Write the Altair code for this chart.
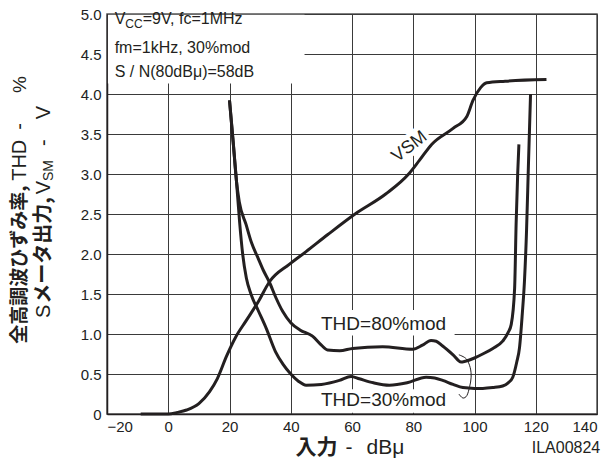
import altair as alt
import pandas as pd

# ---------------- data ----------------
vsm_x = [-9, 0, 3, 6, 10, 13.5, 16, 19, 22, 25.5, 29.5, 33, 39.5, 45, 52, 61, 71, 78.5, 82, 86, 93, 97.5, 99.5, 102, 104, 110, 123.5]
vsm_y = [0, 0, 0.02, 0.05, 0.13, 0.28, 0.44, 0.72, 0.96, 1.17, 1.41, 1.65, 1.87, 2.03, 2.24, 2.5, 2.75, 3.0, 3.17, 3.37, 3.57, 3.72, 3.92, 4.08, 4.14, 4.16, 4.18]

thd30_x = [20, 21.2, 22.3, 23.3, 24.3, 25.5, 27, 29.3, 32, 35, 37.5, 40, 42.5, 45, 50, 55.9, 59.7, 62.4, 67, 72.2, 78, 84.2, 87, 89.6, 93, 96.2, 100, 102.7, 106, 109.2, 111, 112.5, 113.8, 114.7, 115.6, 116.3, 117, 117.6, 118.3]
thd30_y = [3.92, 3.4, 2.9, 2.4, 2.0, 1.7, 1.5, 1.3, 1.07, 0.78, 0.62, 0.5, 0.41, 0.36, 0.37, 0.42, 0.47, 0.44, 0.39, 0.36, 0.39, 0.46, 0.45, 0.42, 0.37, 0.33, 0.32, 0.32, 0.33, 0.35, 0.39, 0.46, 0.65, 0.83, 1.25, 1.65, 2.3, 3.1, 4.0]

thd80_x = [20, 21.2, 22.3, 23.2, 25.4, 27.2, 29.2, 31, 33, 35.2, 37.4, 40, 43, 47.2, 50, 52, 56, 60.2, 70, 79.8, 83, 85.8, 87.5, 89.6, 93, 95.6, 97, 100, 102.7, 106, 109.2, 111, 112, 113.1, 113.6, 114.1, 114.5]
thd80_y = [3.92, 3.4, 2.9, 2.65, 2.37, 2.14, 1.96, 1.8, 1.65, 1.45, 1.28, 1.14, 1.05, 0.97, 0.86, 0.8, 0.79, 0.82, 0.84, 0.81, 0.86, 0.92, 0.91, 0.85, 0.74, 0.65, 0.66, 0.7, 0.75, 0.82, 0.91, 1.02, 1.12, 1.57, 2.39, 3.0, 3.37]

loop_x = [94.9, 97.3, 98.6, 98.9, 98.4, 97.5, 96.2, 94.9]
loop_y = [0.74, 0.69, 0.58, 0.46, 0.34, 0.23, 0.20, 0.25]

x_ticks = [-20, 0, 20, 40, 60, 80, 100, 120, 140]
y_ticks = [0, 0.5, 1.0, 1.5, 2.0, 2.5, 3.0, 3.5, 4.0, 4.5, 5.0]

label_text = ["THD=80%mod", "THD=30%mod"]
label_x = [70.3, 70.3]
label_y = [1.13, 0.17]

# white boxes behind in-plot texts (data units)
box_x = [-19.7, 47, 47]
box_x2 = [44.5, 93.5, 93.5]
box_y = [4.13, 0.98, 0.015]
box_y2 = [4.99, 1.3, 0.31]

FONT = "Liberation Sans"
CJK = "Noto Sans CJK JP"
INK = "#231f20"

ARIAL = {' ': 278, '-': 333, '%': 889, 'T': 611, 'H': 722, 'D': 722, 'V': 667,
         'S': 667, 'M': 833, 'C': 722, '=': 584, '9': 556, ',': 278, 'f': 278, 'c': 500,
         '1': 556, 'z': 500, 'm': 833, 'k': 500, '3': 556, '0': 556, 'o': 556, 'd': 556,
         '/': 278, 'N': 722, '(': 333, ')': 333, '8': 556, 'B': 667, 'μ': 576, '5': 556}


def width(s, size, cjk=False):
    w = 0
    for ch in s:
        if ch in ARIAL:
            w += ARIAL[ch] * (0.95 if cjk else 1.0)
        else:
            w += 1000
    return w * size / 1000.0


X = alt.X("x:Q", scale=alt.Scale(domain=[-20, 140], nice=False, zero=False),
          axis=alt.Axis(values=x_ticks, tickCount=len(x_ticks), title=None, grid=True, ticks=False,
                        labelOverlap=False,
                        labelExpr="datum.value < 0 ? '\u2212' + abs(datum.value) : datum.value"))
Y = alt.Y("y:Q", scale=alt.Scale(domain=[0, 5], nice=False, zero=False),
          axis=alt.Axis(values=y_ticks, tickCount=len(y_ticks), title=None, grid=True, ticks=False,
                        labelOverlap=False,
                        labelExpr="datum.value == 0 ? '0' : format(datum.value, '.1f')"))

boxes = alt.Chart(pd.DataFrame({"x": box_x, "x2": box_x2, "y": box_y, "y2": box_y2})).mark_rect(
    color="white").encode(x=X, x2="x2:Q", y=Y, y2="y2:Q")

rows = []
for name, xs, ys in [("VSM", vsm_x, vsm_y), ("THD30", thd30_x, thd30_y), ("THD80", thd80_x, thd80_y)]:
    for i, (a, b) in enumerate(zip(xs, ys)):
        rows.append({"series": name, "i": i, "x": a, "y": b})
curves = alt.Chart(pd.DataFrame(rows)).mark_line(
    color=INK, strokeWidth=3, interpolate="monotone", strokeJoin="round", strokeCap="butt"
).encode(x="x:Q", y="y:Q", detail="series:N", order="i:Q")

loop = alt.Chart(pd.DataFrame({"x": loop_x, "y": loop_y, "i": list(range(len(loop_x)))})).mark_line(
    color=INK, strokeWidth=1, interpolate="cardinal"
).encode(x="x:Q", y="y:Q", order="i:Q")

thd_labels = alt.Chart(pd.DataFrame({"x": label_x, "y": label_y, "t": label_text})).mark_text(
    font=FONT, fontSize=19, color=INK, align="center", baseline="middle"
).encode(x="x:Q", y="y:Q", text="t:N")

vsm_df = pd.DataFrame({"x": [78.8], "y": [3.34], "t": ["VSM"]})
vsm_halo = alt.Chart(vsm_df).mark_text(font=FONT, fontSize=18, angle=322, color="white",
                                        stroke="white", strokeWidth=9, align="center",
                                        baseline="middle").encode(x="x:Q", y="y:Q", text="t:N")
vsm_lab = alt.Chart(vsm_df).mark_text(font=FONT, fontSize=18, angle=322, color=INK,
                                       align="center", baseline="middle").encode(x="x:Q", y="y:Q", text="t:N")

one = pd.DataFrame({"a": [0]})
layers = [boxes, curves, loop, thd_labels, vsm_halo, vsm_lab]

# top-left condition text (data-anchored, pieces offset by pixel widths)
tx = -17.5
cond = [
    (4.94, [("V", 16, 0, 0), ("CC", 12, 5, 0), ("=9V, fc=1MHz", 16, 0, 0)]),
    (4.58, [("fm=1kHz, 30%mod", 16, 0, 0)]),
    (4.28, [("S / N(80dBμ)=58dB", 16, 0, 0)]),
]
for yv, pieces in cond:
    dx = 0
    for s, size, dy, gap in pieces:
        layers.append(alt.Chart(pd.DataFrame({"x": [tx], "y": [yv]})).mark_text(
            text=s, font=FONT, fontSize=size, color=INK, align="left", baseline="middle",
            dx=dx, dy=dy).encode(x="x:Q", y="y:Q"))
        dx += width(s, size) + gap


def piece_run(pieces, xpix, ypix, angle):
    """pieces: (text, size, cjk, bold, dy, gap_after_px); centred on (xpix, ypix)."""
    total = sum(width(p[0], p[1], p[2]) + p[5] for p in pieces) - pieces[-1][5]
    dx = -total / 2
    out = []
    for s, size, cjk, bold, dy, gap in pieces:
        kw = dict(text=s, font=CJK if cjk else FONT, fontSize=size,
                  fontWeight="bold" if bold else "normal", color=INK,
                  align="left", baseline="middle", dx=dx, dy=dy)
        if angle:
            kw["angle"] = angle
        out.append(alt.Chart(one).mark_text(**kw).encode(x=alt.value(xpix), y=alt.value(ypix)))
        dx += width(s, size, cjk) + gap
    return out


# plot origin on the page is (107, 14)
layers += piece_run([("全高調波ひずみ率,", 19, True, True, 0, 6),
                     ("THD", 20, False, False, 0, 10),
                     ("-", 20, False, False, 0, 30),
                     ("%", 19, False, False, 0, 0)], -87, 196, 270)
layers += piece_run([("S", 20, False, False, 0, 1),
                     ("メータ出力,", 20, True, True, 0, 4),
                     ("V", 20, False, False, 0, 0),
                     ("SM", 14, False, False, 5, 14),
                     ("-", 20, False, False, 0, 20),
                     ("V", 20, False, False, 0, 0)], -63, 198, 270)

# x title
layers += piece_run([("入力", 21, True, True, 0, 8),
                     ("-", 21, False, False, 0, 14),
                     ("dBμ", 21, False, False, 0, 0)], 243, 434, 0)

layers.append(alt.Chart(one).mark_text(
    text="ILA00824", font=FONT, fontSize=16, color=INK, align="center", baseline="middle"
).encode(x=alt.value(459), y=alt.value(434)))

chart = alt.layer(*layers).properties(
    width=490, height=400,
    padding={"left": 99, "top": 6, "right": 6, "bottom": 45},
    autosize=alt.AutoSizeParams(type="none"),
    background="white",
).configure_view(
    stroke="#555555", strokeWidth=1.5
).configure_axis(
    gridColor="#3a3a3a", gridWidth=1, gridOpacity=1,
    domainColor=INK, domainWidth=1.5,
    labelFont=FONT, labelFontSize=15, labelColor="#222222",
).configure_axisX(labelPadding=5).configure_axisY(labelPadding=6)

chart.save("out.html", embed_options={"renderer": "svg", "actions": False})
